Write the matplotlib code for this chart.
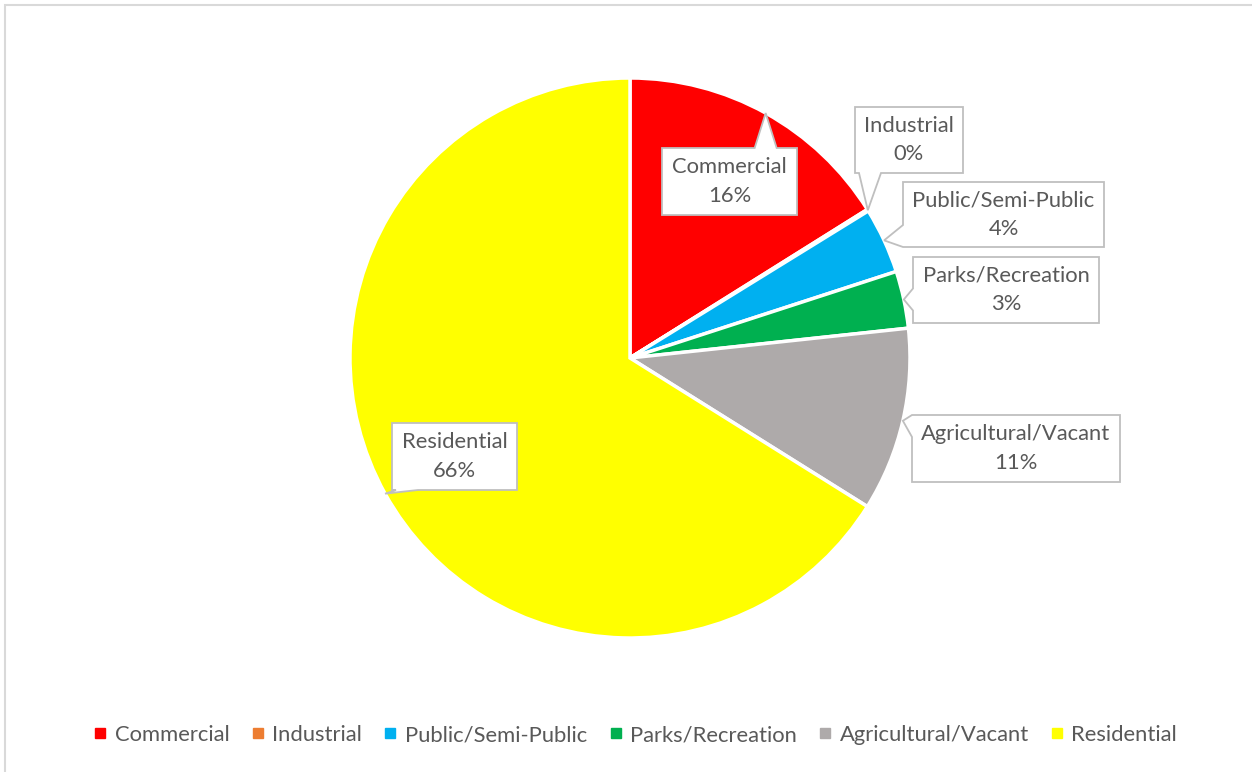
import numpy as np
import matplotlib
matplotlib.use('Agg')
import matplotlib.pyplot as plt
from matplotlib.patches import Polygon, Rectangle
from matplotlib.lines import Line2D
from matplotlib.transforms import IdentityTransform

plt.rcParams['font.family'] = ['Lato', 'DejaVu Sans']

### land use shares (percent)
categories = ['Commercial', 'Industrial', 'Public/Semi-Public',
              'Parks/Recreation', 'Agricultural/Vacant', 'Residential']
shares = [16.1, 0.1, 3.8, 3.3, 10.6, 66.1]
colors = ['#FF0000', '#ED7D31', '#00B0F0', '#00B050', '#AEAAAA', '#FFFF00']

# callout boxes in pixels from top-left: (left, top, right, bottom)
boxes = [(662, 148, 797, 215), (855, 107, 963, 173), (903, 182, 1104, 247),
         (913, 257, 1099, 323), (912, 415, 1120, 482), (392, 423, 517, 490)]

W, H = 1252, 772
TXT = '#595959'
EDGE = '#BFBFBF'
FS = 15.8

fig = plt.figure(figsize=(W / 100, H / 100), dpi=100)

# outer chart frame
fig.add_artist(Rectangle((5 / W, -0.1), 1.2, (H - 5) / H + 0.1, transform=fig.transFigure,
                         fill=False, ec='#D9D9D9', lw=1.5))

# pie area: centre (630, 358), radius 280
ax = fig.add_axes([350 / W, (H - 638) / H, 560 / W, 560 / H])
wedges, _ = ax.pie(shares, colors=colors, startangle=90, counterclock=False,
                   radius=1, wedgeprops=dict(edgecolor='white', linewidth=2.5))
ax.set_xlim(-1, 1)
ax.set_ylim(-1, 1)
ax.set_aspect('auto')
ax.axis('off')


def callout(box, tip, label):
    ''' box with a pointer running to tip; all in display pixels '''
    l, t, r, b = box
    x0, x1 = l, r
    y0, y1 = H - b, H - t  # flip to display coords
    tx, ty = tip
    half = 11
    if ty > y1:
        c = np.clip(tx, x0 + half, x1 - half)
        pts = [(x0, y0), (x1, y0), (x1, y1), (c + half, y1), (tx, ty), (c - half, y1), (x0, y1)]
    elif ty < y0:
        c = np.clip(tx, x0 + half + 4, x1 - half)
        pts = [(x0, y0), (c - half, y0), (tx, ty), (c + half, y0), (x1, y0), (x1, y1), (x0, y1)]
    elif tx < x0:
        c = np.clip(ty, y0 + half, y1 - half)
        pts = [(x0, y0), (x1, y0), (x1, y1), (x0, y1), (x0, c + half), (tx, ty), (x0, c - half)]
    else:
        c = np.clip(ty, y0 + half, y1 - half)
        pts = [(x0, y0), (x1, y0), (x1, c - half), (tx, ty), (x1, c + half), (x1, y1), (x0, y1)]
    fig.add_artist(Polygon(pts, closed=True, transform=IdentityTransform(),
                           fc='white', ec=EDGE, lw=1.3, zorder=5))
    fig.text(((x0 + x1) / 2) / W, ((y0 + y1) / 2) / H, label, ha='center', va='center',
             ma='center', color=TXT, fontsize=FS, linespacing=1.55, zorder=6)


total = sum(shares)
for w, box, cat, s in zip(wedges, boxes, categories, shares):
    mid = np.deg2rad((w.theta1 + w.theta2) / 2)
    tip = ax.transData.transform((np.cos(mid), np.sin(mid)))
    callout(box, tip, f'{cat}\n{round(100 * s / total):.0f}%')

### legend
handles = [Line2D([], [], ls='', marker='s', ms=7, mfc=c, mec=c) for c in colors]
leg = fig.legend(handles, categories, loc='center', bbox_to_anchor=(636 / W, 1 - 735 / H),
                 ncol=6, frameon=False, fontsize=FS, handlelength=0.5, handletextpad=0.4,
                 columnspacing=1.05, labelcolor=TXT)

fig.savefig('out.png', dpi=100, facecolor='white')
